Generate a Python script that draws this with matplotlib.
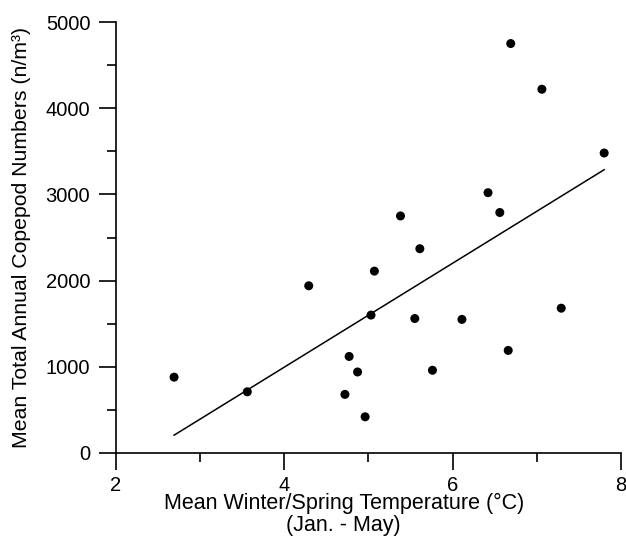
import matplotlib
matplotlib.use("Agg")
import matplotlib.pyplot as plt
import numpy as np
from matplotlib.ticker import MultipleLocator

# mean Jan-May temperature (°C) vs mean total annual copepod numbers (n/m3)
temperature = [2.69, 3.56, 4.29, 4.72, 4.77, 4.87, 4.96, 5.03, 5.07, 5.38, 5.55,
               5.61, 5.76, 6.11, 6.42, 6.56, 6.66, 6.69, 7.06, 7.29, 7.80]
copepods = [880, 710, 1940, 680, 1120, 940, 420, 1600, 2110, 2750, 1560,
            2370, 960, 1550, 3020, 2790, 1190, 4750, 4220, 1680, 3480]

x_ticks = [2, 4, 6, 8]
y_ticks = [0, 1000, 2000, 3000, 4000, 5000]

plt.rcParams["font.family"] = ["Liberation Sans", "DejaVu Sans"]

W, H = 626, 552
fig = plt.figure(figsize=(W / 100, H / 100), dpi=100)
ax = fig.add_axes([116 / W, 1 - 453 / H, 505 / W, 431 / H])

x = np.array(temperature)
y = np.array(copepods)
slope, intercept = np.polyfit(x, y, 1)
xf = np.array([x.min(), x.max()])
ax.plot(xf, slope * xf + intercept, color="black", linewidth=1.1, zorder=2)
ax.scatter(x, y, s=42, color="black", edgecolors="none", zorder=3, clip_on=False)

ax.set_xlim(2, 8)
ax.set_ylim(0, 5000)
ax.set_xticks(x_ticks)
ax.set_yticks(y_ticks)
ax.xaxis.set_minor_locator(MultipleLocator(1))
ax.yaxis.set_minor_locator(MultipleLocator(500))

for side in ("top", "right"):
    ax.spines[side].set_visible(False)
for side in ("left", "bottom"):
    ax.spines[side].set_linewidth(1.2)

ax.tick_params(which="major", direction="out", length=12, width=1.2, pad=6.5,
               labelsize=14.5, colors="black")
ax.tick_params(axis="x", which="major", pad=4.5)
ax.tick_params(which="minor", direction="out", length=6.5, width=1.2)

ax.set_xlabel("Mean Winter/Spring Temperature (\u00b0C)\n(Jan. - May)",
              fontsize=15.5, linespacing=1.05)
ax.xaxis.set_label_coords(0.451, -0.093)
ax.xaxis.label.set_va("top")
ax.set_ylabel("Mean Total Annual Copepod Numbers (n/m\u00b3)", fontsize=15.3)
ax.yaxis.set_label_coords(-0.168, 0.5)

fig.savefig("out.png", dpi=100, facecolor="white")
